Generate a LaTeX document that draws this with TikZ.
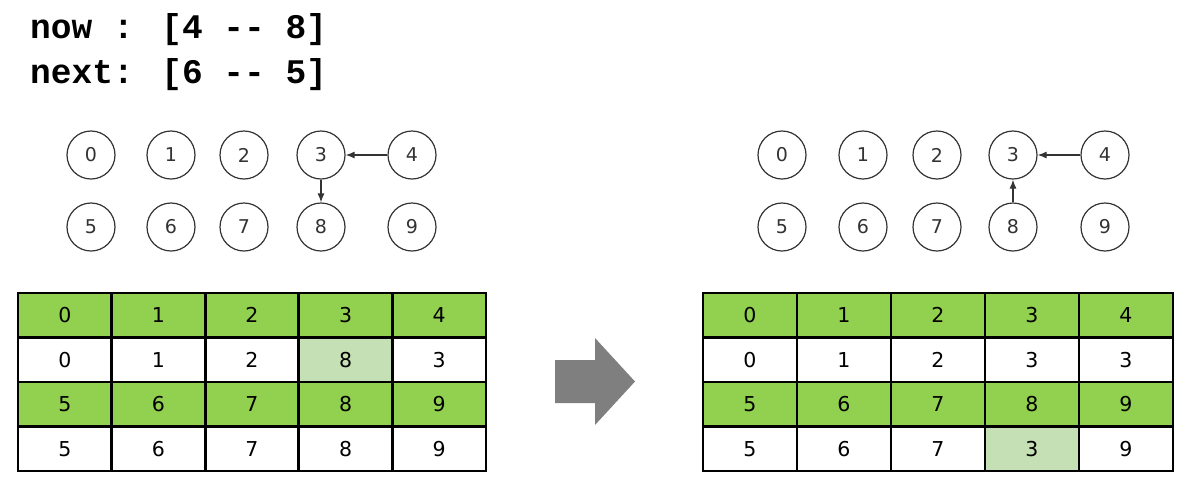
\documentclass[tikz,border=0pt]{standalone}
\usepackage{fontspec}
\setmainfont{DejaVu Sans}
\newfontfamily\hdrfont{Liberation Mono}
\newfontfamily\cellfont{DejaVu Sans}
\usetikzlibrary{arrows.meta}
\definecolor{cgreen}{HTML}{92D050}
\definecolor{clight}{HTML}{C5E0B4}
\definecolor{cline}{HTML}{333333}
\definecolor{cgray}{HTML}{7F7F7F}
\begin{document}
\begin{tikzpicture}[x=1pt,y=-1pt,
  vert/.style={circle,draw=cline,line width=1.2pt,minimum size=48pt,inner sep=0pt,font=\fontsize{19}{19}\selectfont,text=cline},
  link/.style={draw=cline,line width=1.2pt,-{Latex[length=9pt,width=7pt]}},
  cell/.style={rectangle,minimum height=44.5pt,inner sep=0pt,font=\cellfont\fontsize{20.5}{20.5}\selectfont},
  grid/.style={line width=2.8pt,draw=black},
  hdr/.style={anchor=base west,inner sep=0pt,font=\hdrfont\bfseries\fontsize{34.5}{34.5}\selectfont}]
\useasboundingbox (0,0) rectangle (1188,483);
% header
\node[hdr] (h1) at (30,38) {now : [4 -- 8]};
\node[hdr] (h2) at (30,83) {next: [6 -- 5]};
% left graph
\foreach \n/\x/\y in {0/91/155,1/171/155,2/244/155,3/321/155,4/412/155,5/91/227,6/171/227,7/244/227,8/321/227,9/412/227}
  \node[vert] (a\n) at (\x,\y) {\n};
\draw[link] (a4) -- (a3);
\draw[link] (a3) -- (a8);
% right graph
\foreach \n/\x/\y in {0/782/155,1/863/155,2/937/155,3/1013/155,4/1105/155,5/782/227,6/863/227,7/937/227,8/1013/227,9/1105/227}
  \node[vert] (b\n) at (\x,\y) {\n};
\draw[link] (b4) -- (b3);
\draw[link] (b8) -- (b3);
% left table
\foreach \r/\vals/\fc in {0/{0,1,2,3,4}/cgreen,1/{0,1,2,8,3}/white,2/{5,6,7,8,9}/cgreen,3/{5,6,7,8,9}/white}{
  \foreach \v [count=\c from 0] in \vals {
    \node[cell,minimum width=93.6pt,fill=\fc] (L\r\c) at ({18+93.6*\c+46.8},{293+44.5*\r+22.25}) {\v};
  }
}
\node[cell,minimum width=93.6pt,fill=clight] (L13x) at (L13) {8};
\draw[grid] (18,293) rectangle (486,471);
\foreach \c in {1,...,4} \draw[grid] ({18+93.6*\c},293) -- ({18+93.6*\c},471);
\foreach \r in {1,2,3} \draw[grid] (18,{293+44.5*\r}) -- (486,{293+44.5*\r});
% right table
\foreach \r/\vals/\fc in {0/{0,1,2,3,4}/cgreen,1/{0,1,2,3,3}/white,2/{5,6,7,8,9}/cgreen,3/{5,6,7,3,9}/white}{
  \foreach \v [count=\c from 0] in \vals {
    \node[cell,minimum width=94pt,fill=\fc] (R\r\c) at ({703+94*\c+47},{293+44.5*\r+22.25}) {\v};
  }
}
\node[cell,minimum width=94pt,fill=clight] (R33x) at (R33) {3};
\draw[grid] (703,293) rectangle (1173,471);
\foreach \c in {1,...,4} \draw[grid] ({703+94*\c},293) -- ({703+94*\c},471);
\foreach \r in {1,2,3} \draw[grid] (703,{293+44.5*\r}) -- (1173,{293+44.5*\r});
% big arrow
\fill[cgray] (555,360) -- (595,360) -- (595,338) -- (635,381.5) -- (595,425) -- (595,403) -- (555,403) -- cycle;
\end{tikzpicture}
\end{document}
